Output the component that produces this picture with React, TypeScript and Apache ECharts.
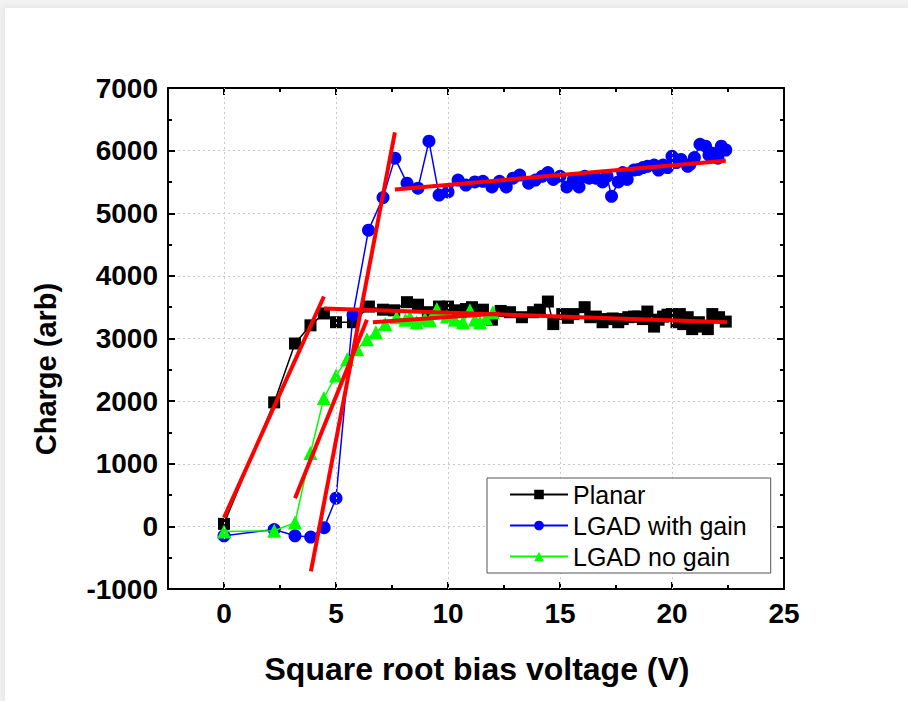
import React, { useEffect, useRef } from "react";
import * as echarts from "echarts";

// ---------- data ----------
const planarX = [0, 2.24, 3.17, 3.86, 4.46, 5.0, 5.76, 6.47, 7.1, 7.6, 8.17, 8.66, 9.1, 9.6, 10.0, 10.45, 10.8, 11.07, 11.56, 11.96, 12.35, 12.77, 13.3, 13.8, 14.1, 14.46, 14.7, 15.1, 15.35, 15.6, 16.1, 16.35, 16.6, 16.9, 17.1, 17.35, 17.6, 17.8, 18.05, 18.3, 18.5, 18.7, 18.9, 19.2, 19.4, 19.6, 19.8, 20.0, 20.2, 20.35, 20.5, 20.7, 20.9, 21.2, 21.4, 21.6, 21.8, 22.1, 22.4];
const planarY = [40, 1980, 2920, 3210, 3400, 3260, 3260, 3510, 3460, 3450, 3580, 3540, 3420, 3510, 3510, 3450, 3470, 3500, 3460, 3300, 3440, 3420, 3340, 3420, 3460, 3590, 3230, 3390, 3330, 3390, 3500, 3340, 3350, 3260, 3310, 3320, 3260, 3310, 3340, 3350, 3350, 3310, 3430, 3190, 3300, 3350, 3380, 3390, 3260, 3390, 3230, 3340, 3150, 3260, 3190, 3150, 3390, 3340, 3270];

const gainX = [0, 2.24, 3.17, 3.87, 4.47, 5.0, 5.76, 6.45, 7.1, 7.63, 8.17, 8.66, 9.15, 9.6, 10.0, 10.45, 10.8, 11.2, 11.56, 11.96, 12.3, 12.6, 12.9, 13.2, 13.6, 13.9, 14.2, 14.46, 14.7, 15.0, 15.3, 15.6, 15.85, 16.1, 16.3, 16.6, 16.9, 17.1, 17.3, 17.6, 17.8, 18.0, 18.3, 18.5, 18.7, 18.9, 19.2, 19.4, 19.6, 19.8, 20.0, 20.2, 20.4, 20.7, 20.8, 21.0, 21.25, 21.5, 21.65, 21.8, 22.05, 22.2, 22.4];
const gainY = [-150, -50, -150, -170, -20, 450, 3380, 4730, 5250, 5880, 5480, 5400, 6150, 5290, 5340, 5530, 5450, 5500, 5510, 5420, 5510, 5420, 5560, 5610, 5480, 5530, 5590, 5650, 5540, 5590, 5420, 5540, 5420, 5590, 5560, 5560, 5500, 5590, 5270, 5500, 5650, 5540, 5690, 5700, 5730, 5750, 5770, 5690, 5770, 5730, 5910, 5810, 5860, 5750, 5780, 5890, 6100, 6070, 5930, 5960, 5880, 6070, 6010];

const noGainX = [0, 2.24, 3.17, 3.86, 4.46, 5.0, 5.5, 5.95, 6.38, 6.78, 7.2, 7.7, 8.1, 8.3, 8.6, 8.97, 9.2, 9.5, 9.95, 10.3, 10.67, 10.98, 11.2, 11.43, 11.7, 12.0];
const noGainY = [-80, -70, 60, 1170, 2050, 2410, 2670, 2830, 2990, 3100, 3230, 3340, 3300, 3340, 3260, 3320, 3290, 3470, 3350, 3300, 3260, 3450, 3300, 3260, 3320, 3420];

// linear-fit segments (end points)
const planarRiseFit = [[0, 140], [4.46, 3670]];
const planarFlatFit = [[4.46, 3480], [22.45, 3260]];
const gainRiseFit = [[3.88, -720], [7.63, 6290]];
const gainFlatFit = [[7.63, 5380], [22.4, 5840]];
const noGainRiseFit = [[3.17, 450], [6.38, 3300]];
const noGainFlatFit = [[6.65, 3260], [12.3, 3400]];

const xMajorTicks = [0, 5, 10, 15, 20, 25];
const xGridValues = [0, 5, 10, 15, 20];
const seriesNames = ["Planar", "LGAD with gain", "LGAD no gain"];
const xTitle = "Square root bias voltage (V)";
const yTitle = "Charge (arb)";

const X_MIN = -2.5;
const X_MAX = 25;
const Y_MIN = -1000;
const Y_MAX = 7000;

const FONT = '"Liberation Sans", Arial, sans-serif';

const pairs = (xs: number[], ys: number[]) => xs.map((x, i) => [x, ys[i]]);

export default function App() {
  const ref = useRef<HTMLDivElement>(null);

  useEffect(() => {
    if (!ref.current) return;
    const chart = echarts.init(ref.current, null, { renderer: "svg" });

    const axisLineStyle = { color: "#000", width: 2 };
    const tickLine = { color: "#000", width: 2 };
    const plain = (v: number) => String(v);

    const xMajor = (position: string, showLabel: boolean) => ({
      type: "value",
      position,
      min: X_MIN,
      max: X_MAX,
      axisLine: { show: true, onZero: false, lineStyle: axisLineStyle },
      axisTick: { show: true, inside: true, length: 7, lineStyle: tickLine, customValues: xMajorTicks },
      axisLabel: {
        show: showLabel,
        customValues: xMajorTicks,
        formatter: plain,
        margin: 10,
        fontSize: 28,
        fontWeight: "bold",
        fontFamily: FONT,
        color: "#000",
      },
      splitLine: { show: false },
    });
    const xMinor = (position: string) => ({
      type: "value",
      position,
      min: X_MIN,
      max: X_MAX,
      interval: 2.5,
      axisLine: { show: false, onZero: false },
      axisTick: { show: true, inside: true, length: 4, lineStyle: tickLine },
      axisLabel: { show: false },
      splitLine: { show: false },
    });
    const yAx = (position: string, showLabel: boolean) => ({
      type: "value",
      position,
      min: Y_MIN,
      max: Y_MAX,
      interval: 1000,
      axisLine: { show: true, onZero: false, lineStyle: axisLineStyle },
      axisTick: { show: true, inside: true, length: 7, lineStyle: tickLine },
      minorTick: { show: true, splitNumber: 2, length: 4, lineStyle: tickLine },
      axisLabel: {
        show: showLabel,
        formatter: plain,
        margin: 10,
        fontSize: 28,
        fontWeight: "bold",
        fontFamily: FONT,
        color: "#000",
      },
      splitLine: {
        show: showLabel,
        lineStyle: { type: [2, 3], color: "#c8c8c8", width: 1 },
      },
    });

    const fit = (data: number[][]) => ({
      type: "line",
      data,
      symbol: "none",
      silent: true,
      z: 10,
      lineStyle: { color: "#ff0000", width: 4 },
      itemStyle: { color: "#ff0000" },
    });

    const dataSeries = (name: string, data: number[][], color: string, symbol: string, size: number, z: number) => ({
      type: "line",
      name,
      data,
      symbol,
      symbolSize: size,
      z,
      color,
      itemStyle: { color },
      lineStyle: { color, width: 1.5 },
    });

    chart.setOption({
      animation: false,
      backgroundColor: "transparent",
      textStyle: { fontFamily: FONT },
      grid: { left: 168, right: 124, top: 88, bottom: 112, containLabel: false, outerBoundsMode: "none" },
      xAxis: [xMajor("bottom", true), xMinor("bottom"), xMajor("top", false), xMinor("top")],
      yAxis: [yAx("left", true), yAx("right", false)],
      legend: {
        data: seriesNames,
        orient: "vertical",
        left: 487,
        top: 478,
        padding: [4, 24, 4, 22],
        itemWidth: 58,
        itemHeight: 12,
        itemGap: 6,
        backgroundColor: "#fff",
        borderColor: "#555",
        borderWidth: 1,
        borderRadius: 0,
        textStyle: { fontSize: 25, fontFamily: FONT, color: "#000" },
        z: 20,
      },
      series: [
        {
          type: "line",
          name: "grid",
          data: [],
          silent: true,
          z: 0,
          markLine: {
            silent: true,
            symbol: ["none", "none"],
            label: { show: false },
            lineStyle: { type: [2, 3], color: "#c8c8c8", width: 1 },
            data: xGridValues.map((v) => ({ xAxis: v })),
          },
        },
        dataSeries(seriesNames[0], pairs(planarX, planarY), "#000000", "rect", 12, 2),
        dataSeries(seriesNames[1], pairs(gainX, gainY), "#0000ff", "circle", 13, 3),
        dataSeries(seriesNames[2], pairs(noGainX, noGainY), "#00ff00", "triangle", 14, 4),
        fit(planarRiseFit),
        fit(planarFlatFit),
        fit(gainRiseFit),
        fit(gainFlatFit),
        fit(noGainRiseFit),
        fit(noGainFlatFit),
      ],
      graphic: [
        {
          type: "text",
          x: 477,
          y: 669,
          style: {
            text: xTitle,
            font: `bold 32px ${FONT}`,
            fill: "#000",
            align: "center",
            verticalAlign: "middle",
            textAlign: "center",
            textVerticalAlign: "middle",
          },
        },
        {
          type: "text",
          x: 46,
          y: 369,
          rotation: Math.PI / 2,
          style: {
            text: yTitle,
            font: `bold 29px ${FONT}`,
            fill: "#000",
            align: "center",
            verticalAlign: "middle",
            textAlign: "center",
            textVerticalAlign: "middle",
          },
        },
      ],
    });

    return () => chart.dispose();
  }, []);

  return (
    <div style={{ position: "fixed", left: 0, top: 0, width: 908, height: 701, background: "#f2f2f2", overflow: "hidden" }}>
      <div
        style={{
          position: "absolute",
          left: 5,
          top: 8,
          right: 0,
          bottom: 0,
          background: "#fff",
          boxShadow: "0 0 6px 2px rgba(0,0,0,0.05)",
        }}
      />
      <div ref={ref} style={{ position: "absolute", left: 0, top: 0, width: 908, height: 701 }} />
    </div>
  );
}
